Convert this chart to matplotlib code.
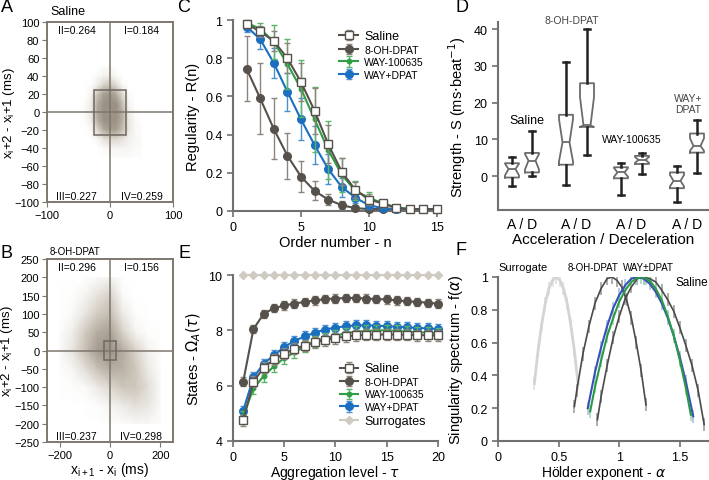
import matplotlib.pyplot as plt
import numpy as np
from matplotlib.colors import LinearSegmentedColormap
from matplotlib.patches import Rectangle

plt.rcParams['font.family'] = ['Liberation Sans', 'DejaVu Sans']

# ---------------- data ----------------
# A / B: Poincare-like cloud, density read by eye on a coarse grid
a_x = [-50, -40, -30, -20, -10, 0, 10, 20, 30, 40, 50]
a_y = [50, 40, 30, 20, 10, 0, -10, -20, -30, -40, -50]
a_dens = [
    [0, 0, 0, 0, 0.05, 0.05, 0, 0, 0, 0, 0],
    [0, 0, 0, 0.05, 0.1, 0.15, 0.05, 0, 0, 0, 0],
    [0, 0, 0.02, 0.15, 0.4, 0.5, 0.3, 0.05, 0, 0, 0],
    [0, 0, 0.08, 0.5, 0.85, 0.95, 0.75, 0.3, 0.03, 0, 0],
    [0, 0.02, 0.15, 0.75, 1.0, 1.0, 1.0, 0.55, 0.08, 0, 0],
    [0, 0.05, 0.2, 0.8, 1.0, 1.0, 1.0, 0.7, 0.15, 0.03, 0],
    [0, 0.02, 0.15, 0.7, 1.0, 1.0, 1.0, 0.7, 0.2, 0.05, 0],
    [0, 0, 0.05, 0.35, 0.75, 0.9, 0.85, 0.55, 0.2, 0.07, 0.02],
    [0, 0, 0, 0.08, 0.25, 0.35, 0.35, 0.25, 0.12, 0.06, 0.03],
    [0, 0, 0, 0, 0.05, 0.08, 0.1, 0.1, 0.08, 0.05, 0.03],
    [0, 0, 0, 0, 0, 0.02, 0.03, 0.04, 0.04, 0.03, 0.02],
]
b_x = [-200, -150, -100, -50, 0, 50, 100, 150, 200]
b_y = [200, 150, 100, 50, 0, -50, -100, -150, -200]
b_dens = [
    [0, 0, 0, 0.05, 0.1, 0, 0, 0, 0],
    [0, 0.02, 0.1, 0.25, 0.4, 0.05, 0, 0, 0],
    [0, 0.05, 0.22, 0.45, 0.6, 0.18, 0.02, 0, 0],
    [0.02, 0.15, 0.45, 0.75, 0.85, 0.4, 0.1, 0.02, 0],
    [0.05, 0.22, 0.55, 0.9, 1.0, 0.75, 0.4, 0.12, 0.02],
    [0.02, 0.08, 0.28, 0.55, 0.75, 0.7, 0.5, 0.18, 0.02],
    [0, 0.02, 0.05, 0.18, 0.35, 0.5, 0.5, 0.3, 0.05],
    [0, 0, 0, 0.03, 0.1, 0.18, 0.28, 0.22, 0.05],
    [0, 0, 0, 0, 0.02, 0.03, 0.06, 0.06, 0.02],
]
a_quads = ['I=0.184', 'II=0.264', 'III=0.227', 'IV=0.259']
b_quads = ['I=0.156', 'II=0.296', 'III=0.237', 'IV=0.298']

# C: regularity R(n)
n_order = list(range(1, 16))
r_saline = [0.98, 0.94, 0.89, 0.80, 0.675, 0.525, 0.35, 0.205, 0.11, 0.06, 0.04, 0.015, 0.01, 0.01, 0.01]
r_saline_err = [0.02, 0.03, 0.05, 0.08, 0.1, 0.12, 0.1, 0.07, 0.04, 0.03, 0.02, 0.01, 0.01, 0.01, 0.01]
r_dpat = [0.745, 0.59, 0.43, 0.29, 0.18, 0.105, 0.06, 0.03, 0.015, 0.01, 0.01, 0.01, 0.01, 0.01, 0.01]
r_dpat_err = [0.17, 0.185, 0.16, 0.12, 0.08, 0.05, 0.03, 0.02, 0.01, 0.005, 0.005, 0.005, 0.005, 0.005, 0.005]
r_way = [0.985, 0.955, 0.885, 0.77, 0.64, 0.48, 0.32, 0.19, 0.105, 0.07, 0.04, 0.02, 0.01, 0.01, 0.01]
r_way_err = [0.01, 0.03, 0.09, 0.13, 0.15, 0.17, 0.15, 0.09, 0.05, 0.03, 0.02, 0.01, 0.01, 0.01, 0.01]
r_wpd = [0.965, 0.90, 0.775, 0.625, 0.48, 0.345, 0.22, 0.125, 0.07, 0.03, 0.015, 0.01, 0.01, 0.01, 0.01]
r_wpd_err = [0.03, 0.05, 0.08, 0.1, 0.11, 0.1, 0.08, 0.05, 0.03, 0.02, 0.01, 0.01, 0.01, 0.01, 0.01]
groups = ['Saline', '8-OH-DPAT', 'WAY-100635', 'WAY+DPAT']

# D: strength boxplots (A / D per group)
d_q1 = [-0.4, 1.0, 3.1, 13.4, -0.6, 3.3, -3.3, 6.4]
d_med = [1.9, 4.2, 9.2, 13.8, 1.0, 4.4, -1.3, 8.2]
d_q3 = [3.5, 6.3, 16.7, 25.3, 2.4, 5.5, 1.0, 11.6]
d_lo = [-2.8, 0.1, -2.4, 5.7, -5.1, 0.7, -7.0, 0.8]
d_hi = [5.1, 12.3, 31.2, 40.2, 3.5, 6.4, 2.8, 15.2]
d_cilo = [0.2, 1.8, 4.0, 13.4, -0.2, 3.6, -2.8, 6.9]
d_cihi = [3.4, 6.0, 15.5, 21.5, 2.2, 5.2, 0.3, 10.3]
d_pair_label = 'A / D'

# E: states Omega_A(tau)
tau = list(range(1, 21))
o_saline = [4.75, 6.15, 6.65, 6.95, 7.15, 7.33, 7.45, 7.57, 7.65, 7.72, 7.78, 7.82, 7.84, 7.85, 7.85, 7.85, 7.84, 7.83, 7.82, 7.82]
o_dpat = [6.15, 8.05, 8.6, 8.8, 8.9, 8.97, 9.03, 9.08, 9.13, 9.15, 9.17, 9.17, 9.15, 9.13, 9.12, 9.08, 9.05, 9.03, 9.0, 8.97]
o_way = [4.9, 5.9, 6.35, 6.7, 7.0, 7.2, 7.42, 7.6, 7.72, 7.8, 7.9, 7.95, 7.98, 8.0, 8.0, 7.98, 7.96, 7.93, 7.92, 7.9]
o_wpd = [5.1, 6.3, 6.8, 7.1, 7.4, 7.62, 7.78, 7.92, 8.03, 8.1, 8.15, 8.18, 8.18, 8.17, 8.15, 8.13, 8.11, 8.09, 8.07, 8.05]
o_surr = [10.0] * 20

# F: singularity spectra
f_surr_a = [0.30, 0.33, 0.36, 0.39, 0.42, 0.45, 0.48, 0.51, 0.54, 0.57, 0.60, 0.63, 0.66]
f_surr_f = [0.35, 0.55, 0.71, 0.84, 0.93, 0.98, 1.0, 0.98, 0.93, 0.84, 0.71, 0.55, 0.35]
f_dpat_a = [0.63, 0.65, 0.70, 0.75, 0.80, 0.85, 0.90, 0.94, 0.98, 1.02, 1.06, 1.10, 1.14, 1.18, 1.22]
f_dpat_f = [0.21, 0.31, 0.53, 0.70, 0.84, 0.93, 0.99, 1.0, 0.98, 0.94, 0.86, 0.75, 0.60, 0.43, 0.22]
f_way_a = [0.76, 0.80, 0.85, 0.90, 0.95, 1.00, 1.05, 1.10, 1.14, 1.18, 1.22, 1.26, 1.30, 1.35, 1.40, 1.45, 1.50, 1.55, 1.59]
f_way_f = [0.18, 0.33, 0.49, 0.64, 0.75, 0.85, 0.92, 0.97, 0.99, 1.0, 0.99, 0.97, 0.93, 0.86, 0.76, 0.64, 0.49, 0.32, 0.16]
f_wpd_a = [0.74, 0.80, 0.85, 0.90, 0.95, 1.00, 1.05, 1.10, 1.15, 1.20, 1.25, 1.30, 1.35, 1.40, 1.45, 1.50, 1.55, 1.61]
f_wpd_f = [0.20, 0.42, 0.57, 0.70, 0.81, 0.89, 0.95, 0.99, 1.0, 0.99, 0.96, 0.91, 0.84, 0.75, 0.64, 0.51, 0.36, 0.15]
f_sal_a = [0.82, 0.85, 0.90, 0.95, 1.00, 1.05, 1.10, 1.15, 1.20, 1.25, 1.30, 1.35, 1.40, 1.45, 1.50, 1.55, 1.60, 1.65, 1.70]
f_sal_f = [0.13, 0.27, 0.46, 0.63, 0.76, 0.87, 0.94, 0.99, 1.0, 0.99, 0.97, 0.92, 0.86, 0.79, 0.69, 0.58, 0.46, 0.31, 0.10]

# ---------------- style ----------------
dark = '#56514b'
green = '#2f9e44'
blue = '#1b6fc0'
surr_c = '#cfcac2'
spine_c = '#707070'
frame_c = '#7d776e'
cloud = LinearSegmentedColormap.from_list('cloud', ['#ffffff', '#cdc6ba', '#9b9285'])

fig = plt.figure(figsize=(7.09, 4.81), dpi=100)


def style_open(ax):
    for s in ['top', 'right']:
        ax.spines[s].set_visible(False)
    for s in ['left', 'bottom']:
        ax.spines[s].set_color(spine_c)
        ax.spines[s].set_linewidth(1.5)
    ax.tick_params(colors=spine_c, labelcolor='black', labelsize=9, length=4, width=1.2)


def poincare(ax, xs, ys, dens, lim, box, quads, label_x):
    X, Y = np.meshgrid(xs, ys)
    ax.pcolormesh(X, Y, np.array(dens), cmap=cloud, shading='gouraud', vmin=0, vmax=1, zorder=1)
    ax.axhline(0, color=frame_c, lw=1.1, zorder=2)
    ax.axvline(0, color=frame_c, lw=1.1, zorder=2)
    ax.add_patch(Rectangle((-box, -box), 2 * box, 2 * box, fill=False, ec='#6e6860', lw=1.1, zorder=3))
    ax.set_xlim(-lim, lim)
    ax.set_ylim(-lim, lim)
    for s in ax.spines.values():
        s.set_color(frame_c)
        s.set_linewidth(1.4)
    ax.tick_params(colors=frame_c, labelcolor='black', labelsize=8, length=3.5, pad=2)
    kw = dict(fontsize=7.5, ha='center', va='center', transform=ax.transAxes)
    ax.text(0.75, 0.955, quads[0], **kw)
    ax.text(0.24, 0.955, quads[1], **kw)
    ax.text(0.23, 0.033, quads[2], **kw)
    ax.text(0.75, 0.033, quads[3], **kw)
    ax.set_ylabel(r'x$_\mathregular{i}$+2 - x$_\mathregular{i}$+1 (ms)', fontsize=9.5)
    ax.yaxis.set_label_coords(label_x, 0.5)


# ---- A ----
axA = fig.add_axes([0.0663, 0.578, 0.1777, 0.374])
poincare(axA, a_x, a_y, a_dens, 100, 25, a_quads, -0.235)
axA.set_xticks([-100, 0, 100])
axA.set_yticks(range(-100, 101, 20))
fig.text(50 / 709, 1 - 12 / 481, 'Saline', fontsize=9, va='center')

# ---- B ----
axB = fig.add_axes([0.0663, 0.079, 0.1777, 0.380])
poincare(axB, b_x, b_y, b_dens, 250, 25, b_quads, -0.255)
axB.set_xticks([-200, 0, 200])
axB.set_yticks(range(-250, 251, 50))
axB.set_xlabel(r'x$_\mathregular{i+1}$ - x$_\mathregular{i}$ (ms)', fontsize=10)
axB.xaxis.set_label_coords(0.5, -0.1)
fig.text(50 / 709, 1 - 252 / 481, '8-OH-DPAT', fontsize=7, va='center')

# ---- C ----
axC = fig.add_axes([0.3286, 0.5593, 0.2877, 0.397])
eb = dict(capsize=2.5, elinewidth=1, capthick=1, lw=1.5)
axC.errorbar(n_order, r_dpat, yerr=r_dpat_err, color=dark, ecolor='#8c857b', marker='o', ms=5.5, label=groups[1], zorder=3, **eb)
axC.errorbar(n_order, r_wpd, yerr=r_wpd_err, color=blue, ecolor='#4a8fd0', marker='o', ms=5.5, label=groups[3], zorder=4, **eb)
axC.errorbar(n_order, r_way, yerr=r_way_err, color=green, ecolor='#5cb46a', marker='o', ms=3.2, label=groups[2], zorder=5, **eb)
axC.errorbar(n_order, r_saline, yerr=r_saline_err, color=dark, ecolor='#8c857b', marker='s', ms=5.5, mfc='white', mec=dark, label=groups[0], zorder=6, **eb)
axC.set_xlim(0, 15)
axC.set_ylim(0, 1)
axC.set_xticks([0, 5, 10, 15])
axC.set_yticks([0, 0.2, 0.4, 0.6, 0.8, 1])
axC.set_yticklabels(['0', '0.2', '0.4', '0.6', '0.8', '1'])
style_open(axC)
for l in axC.lines + [c for c in axC.collections]:
    l.set_clip_on(False)
axC.set_ylabel('Regularity - R(n)', fontsize=10.5)
axC.set_xlabel('Order number - n', fontsize=10.5, labelpad=1)
h, lb = axC.get_legend_handles_labels()
order = [lb.index(g) for g in groups]
legC = axC.legend([h[i] for i in order], [lb[i] for i in order], loc='upper left', bbox_to_anchor=(0.5, 0.97),
                  frameon=False, fontsize=7.5, handlelength=1.8, labelspacing=0.25, borderaxespad=0, handletextpad=0.6)
legC.get_texts()[0].set_fontsize(9)

# ---- D ----
axD = fig.add_axes([0.7024, 0.5613, 0.2976, 0.391])
pos = [1.4, 3.4, 6.8, 8.9, 12.3, 14.4, 17.9, 19.9]
stats = []
for i in range(8):
    stats.append(dict(med=d_med[i], q1=d_q1[i], q3=d_q3[i], whislo=d_lo[i], whishi=d_hi[i],
                      cilo=d_cilo[i], cihi=d_cihi[i], fliers=[]))
box_c = '#6b6b6b'
axD.bxp(stats, positions=pos, widths=1.4, shownotches=True, showfliers=False, capwidths=0.6,
        boxprops=dict(color=box_c, lw=1.3), medianprops=dict(color=box_c, lw=1.3),
        whiskerprops=dict(color='#222222', lw=1.8), capprops=dict(color='#222222', lw=1.8))
axD.set_xlim(0, 21.1)
axD.set_ylim(-9.25, 42)
axD.set_yticks([0, 10, 20, 30, 40])
pair_mid = [(pos[2 * i] + pos[2 * i + 1]) / 2 for i in range(4)]
axD.set_xticks(pair_mid)
axD.set_xticklabels([d_pair_label] * 4)
style_open(axD)
axD.tick_params(axis='x', length=0, pad=5, labelsize=10)
axD.set_xlabel('Acceleration / Deceleration', fontsize=11, labelpad=1)
axD.set_ylabel(r'Strength - S (ms$\cdot$beat$^{-1}$)', fontsize=10.5)
axD.text(2.9, 15.2, 'Saline', fontsize=9, ha='center', va='center')
axD.text(7.4, 42.5, '8-OH-DPAT', fontsize=7.5, ha='center', va='center', color='#444444', clip_on=False)
axD.text(13.4, 10.0, 'WAY-100635', fontsize=7.5, ha='center', va='center')
axD.text(19.0, 19.8, 'WAY+\nDPAT', fontsize=7.5, ha='center', va='center', color='#444444', linespacing=1.2)

# ---- E ----
axE = fig.add_axes([0.3286, 0.0811, 0.289, 0.345])
eb = dict(capsize=2.5, elinewidth=1, capthick=1, lw=1.5)
axE.errorbar(tau, o_surr, color=surr_c, marker='D', ms=4.5, lw=1.5, label='Surrogates', zorder=2)
axE.errorbar(tau, o_dpat, yerr=0.15, color=dark, ecolor='#8c857b', marker='o', ms=5.5, label=groups[1], zorder=3, **eb)
axE.errorbar(tau, o_wpd, yerr=0.18, color=blue, ecolor='#4a8fd0', marker='o', ms=5.5, label=groups[3], zorder=4, **eb)
axE.errorbar(tau, o_way, yerr=0.2, color=green, ecolor='#5cb46a', marker='o', ms=3.2, label=groups[2], zorder=5, **eb)
axE.errorbar(tau, o_saline, yerr=0.2, color=dark, ecolor='#8c857b', marker='s', ms=5.5, mfc='white', mec=dark, label=groups[0], zorder=6, **eb)
axE.set_xlim(0, 20)
axE.set_ylim(4, 10)
axE.set_xticks([0, 5, 10, 15, 20])
axE.set_yticks([4, 6, 8, 10])
style_open(axE)
for l in axE.lines + [c for c in axE.collections]:
    l.set_clip_on(False)
axE.set_ylabel(r'States - $\Omega_A(\tau)$', fontsize=10.5)
axE.set_xlabel(r'Aggregation level - $\tau$', fontsize=10, labelpad=0)
h, lb = axE.get_legend_handles_labels()
order = [lb.index(g) for g in groups + ['Surrogates']]
legE = axE.legend([h[i] for i in order], [lb[i] for i in order], loc='upper left', bbox_to_anchor=(0.5, 0.5),
                  frameon=False, fontsize=7.5, handlelength=1.8, labelspacing=0.25, borderaxespad=0, handletextpad=0.6)
legE.get_texts()[0].set_fontsize(9)
legE.get_texts()[4].set_fontsize(9)

# ---- F ----
axF = fig.add_axes([0.7024, 0.0811, 0.2976, 0.341])
ek = dict(yerr=0.04, elinewidth=1.2, capsize=0, zorder=1)
axF.errorbar(f_surr_a, f_surr_f, color='#d4d4d4', ecolor='#e2e2e2', lw=2, **ek)
axF.errorbar(f_dpat_a, f_dpat_f, color='#4a4a4a', ecolor='#a0a0a0', lw=1.2, **ek)
axF.errorbar(f_sal_a, f_sal_f, color='#4a4a4a', ecolor='#a0a0a0', lw=1.2, **ek)
axF.errorbar(f_wpd_a, f_wpd_f, color='#3a4fb8', ecolor='#a9c4e0', lw=1.5, **ek)
axF.errorbar(f_way_a, f_way_f, color='#2a9a48', ecolor='#a8d8b0', lw=1.5, **ek)
axF.set_xlim(0, 1.74)
axF.set_ylim(0, 1)
axF.set_xticks([0, 0.5, 1, 1.5])
axF.set_xticklabels(['0', '0.5', '1', '1.5'])
axF.set_yticks([0, 0.2, 0.4, 0.6, 0.8, 1])
axF.set_yticklabels(['0', '0.2', '0.4', '0.6', '0.8', '1'])
style_open(axF)
axF.set_ylabel(r'Singularity spectrum - f($\alpha$)', fontsize=10.5)
axF.set_xlabel(r'Hölder exponent - $\alpha$', fontsize=10, labelpad=0)
axF.text(0.21, 1.06, 'Surrogate', fontsize=8, ha='center', va='center', clip_on=False)
axF.text(0.78, 1.06, '8-OH-DPAT', fontsize=7, ha='center', va='center', clip_on=False)
axF.text(1.24, 1.06, 'WAY±DPAT', fontsize=7, ha='center', va='center', clip_on=False)
axF.text(1.6, 0.97, 'Saline', fontsize=8.5, ha='center', va='center')

# panel letters
for letter, px, py in [('A', 7, 8), ('B', 7, 253), ('C', 184, 8), ('D', 462, 8), ('E', 184, 253), ('F', 461, 251)]:
    fig.text(px / 709, 1 - py / 481, letter, fontsize=13, ha='center', va='center')

plt.savefig('out.png', dpi=100)
